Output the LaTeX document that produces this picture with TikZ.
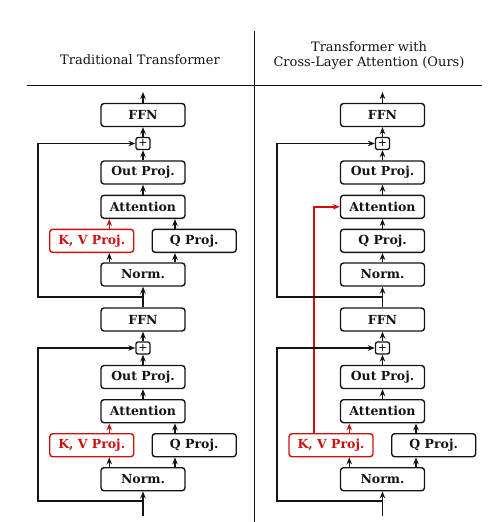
\documentclass[tikz,border=0pt]{standalone}
\usepackage{fontspec}
\setmainfont{DejaVu Serif}
\usetikzlibrary{arrows.meta}
\definecolor{myred}{RGB}{204,16,16}
\definecolor{myblk}{RGB}{20,20,20}
\tikzset{
  blk/.style={draw=myblk,line width=1.4pt,rounded corners=3pt,minimum width=84pt,minimum height=23pt,inner sep=0pt,font=\bfseries\fontsize{12.5}{14}\selectfont,text=myblk},
  redblk/.style={blk,draw=myred,text=myred},
  plusbox/.style={draw=myblk,line width=1.3pt,rounded corners=2pt,minimum width=14pt,minimum height=12pt,inner sep=0pt,font=\fontsize{11}{11}\selectfont},
  conn/.style={line width=1.4pt,draw=myblk,-{Stealth[length=7pt,width=5.5pt,inset=2.3pt]}},
  rconn/.style={conn,draw=myred,color=myred},
  rule/.style={line width=0.8pt,draw=myblk},
  title/.style={font=\fontsize{13}{15.5}\selectfont,align=center,text=myblk}
}
\begin{document}
\begin{tikzpicture}[x=1pt,y=-1pt]
\useasboundingbox (0,0) rectangle (492,522);
% headers
\draw[rule] (254.3,31) -- (254.3,522);
\draw[rule] (26.7,85) -- (481.7,85);
\node[title] (t1) at (140,59.5) {Traditional Transformer};
\node[title] (t2) at (369,55.5) {Transformer with\\Cross-Layer Attention (Ours)};

% ===== LEFT COLUMN =====
\node[blk] (ffnA) at (143,115) {FFN};
\node[plusbox] (plusA) at (143,143.5) {+};
\node[blk] (outA) at (143,172.5) {Out Proj.};
\node[blk] (attA) at (143,206.8) {Attention};
\node[redblk] (kvA) at (91.7,240.8) {K, V Proj.};
\node[blk] (qA) at (194.2,240.8) {Q Proj.};
\node[blk] (normA) at (143,274.5) {Norm.};

\node[blk] (ffnB) at (143,319.5) {FFN};
\node[plusbox] (plusB) at (143,348) {+};
\node[blk] (outB) at (143,377) {Out Proj.};
\node[blk] (attB) at (143,411.2) {Attention};
\node[redblk] (kvB) at (91.7,445.2) {K, V Proj.};
\node[blk] (qB) at (194.2,445.2) {Q Proj.};
\node[blk] (normB) at (143,479.2) {Norm.};

\coordinate (topA) at (143,92);
\coordinate (inB) at (143,516);
\coordinate (rA) at (143,297);
\coordinate (rB) at (143,501);

\draw[conn] (ffnA.north) -- (topA);
\draw[conn] (plusA.north) -- (ffnA.south);
\draw[conn] (outA.north) -- (plusA.south);
\draw[conn] (attA.north) -- (outA.south);
\draw[rconn] (kvA.north -| 109.3,0) -- (attA.south -| 109.3,0);
\draw[conn] (qA.north -| 175,0) -- (attA.south -| 175,0);
\draw[conn] (normA.north -| 109.3,0) -- (kvA.south -| 109.3,0);
\draw[conn] (normA.north -| 175,0) -- (qA.south -| 175,0);
\draw[conn] (ffnB.north) -- (normA.south);
\draw[conn] (rA) -- (38,297) -- (38,143.5) -- (plusA.west);

\draw[conn] (plusB.north) -- (ffnB.south);
\draw[conn] (outB.north) -- (plusB.south);
\draw[conn] (attB.north) -- (outB.south);
\draw[rconn] (kvB.north -| 109.3,0) -- (attB.south -| 109.3,0);
\draw[conn] (qB.north -| 175,0) -- (attB.south -| 175,0);
\draw[conn] (normB.north -| 109.3,0) -- (kvB.south -| 109.3,0);
\draw[conn] (normB.north -| 175,0) -- (qB.south -| 175,0);
\draw[conn] (inB) -- (normB.south);
\draw[conn] (rB) -- (38,501) -- (38,348) -- (plusB.west);

% ===== RIGHT COLUMN =====
\node[blk] (ffnC) at (382.5,115) {FFN};
\node[plusbox] (plusC) at (382.5,143.5) {+};
\node[blk] (outC) at (382.5,172.5) {Out Proj.};
\node[blk] (attC) at (382.5,206.8) {Attention};
\node[blk] (qC) at (382.5,240.8) {Q Proj.};
\node[blk] (normC) at (382.5,274.5) {Norm.};

\node[blk] (ffnD) at (382.5,319.5) {FFN};
\node[plusbox] (plusD) at (382.5,348) {+};
\node[blk] (outD) at (382.5,377) {Out Proj.};
\node[blk] (attD) at (382.5,411.2) {Attention};
\node[redblk] (kvD) at (331,445.2) {K, V Proj.};
\node[blk] (qD) at (433.7,445.2) {Q Proj.};
\node[blk] (normD) at (382.5,479.2) {Norm.};

\coordinate (topC) at (382.5,92);
\coordinate (inD) at (382.5,516);
\coordinate (rC) at (382.5,297);
\coordinate (rD) at (382.5,501);

% cross-layer connection (drawn first so black lines cross over it)
\draw[rconn] (kvD.north -| 314,0) -- (314,206.8) -- (attC.west);

\draw[conn] (ffnC.north) -- (topC);
\draw[conn] (plusC.north) -- (ffnC.south);
\draw[conn] (outC.north) -- (plusC.south);
\draw[conn] (attC.north) -- (outC.south);
\draw[conn] (qC.north) -- (attC.south);
\draw[conn] (normC.north) -- (qC.south);
\draw[conn] (ffnD.north) -- (normC.south);
\draw[conn] (rC) -- (277,297) -- (277,143.5) -- (plusC.west);

\draw[conn] (plusD.north) -- (ffnD.south);
\draw[conn] (outD.north) -- (plusD.south);
\draw[conn] (attD.north) -- (outD.south);
\draw[rconn] (kvD.north -| 349.3,0) -- (attD.south -| 349.3,0);
\draw[conn] (qD.north -| 416,0) -- (attD.south -| 416,0);
\draw[conn] (normD.north -| 349.3,0) -- (kvD.south -| 349.3,0);
\draw[conn] (normD.north -| 416,0) -- (qD.south -| 416,0);
\draw[conn] (inD) -- (normD.south);
\draw[conn] (rD) -- (277,501) -- (277,348) -- (plusD.west);
\end{tikzpicture}
\end{document}
